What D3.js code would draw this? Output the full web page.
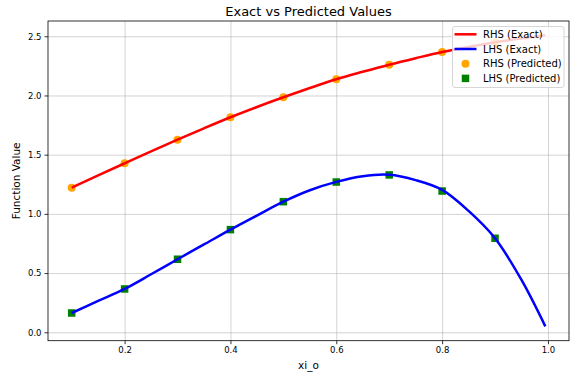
<!DOCTYPE html>
<html>
<head>
<meta charset="utf-8">
<script src="https://cdn.jsdelivr.net/npm/d3@7"></script>
<style>
  body { margin: 0; background: #fff; }
  svg { font-family: "DejaVu Sans", sans-serif; }
</style>
</head>
<body>
<script>
// dense samples of the exact curves
var xsExact = [0.1, 0.15, 0.2, 0.25, 0.3, 0.35, 0.4, 0.45, 0.5, 0.55, 0.6, 0.65, 0.7, 0.75, 0.8, 0.85, 0.9, 0.95, 0.995];
var rhsExact = [1.221, 1.325, 1.427, 1.528, 1.627, 1.723, 1.816, 1.903, 1.985, 2.063, 2.137, 2.200, 2.260, 2.315, 2.367, 2.410, 2.450, 2.482, 2.508];
var lhsExact = [0.163, 0.265, 0.366, 0.490, 0.617, 0.742, 0.867, 0.986, 1.103, 1.200, 1.270, 1.318, 1.330, 1.285, 1.203, 1.025, 0.794, 0.442, 0.050];

// predicted points
var xsPred = [0.1, 0.2, 0.3, 0.4, 0.5, 0.6, 0.7, 0.8, 0.9];
var rhsPred = [1.221, 1.427, 1.627, 1.816, 1.985, 2.137, 2.260, 2.367, 2.450];
var lhsPred = [0.163, 0.366, 0.617, 0.867, 1.103, 1.269, 1.329, 1.193, 0.794];

var xTicks = [0.2, 0.4, 0.6, 0.8, 1.0];
var yTicks = [0.0, 0.5, 1.0, 1.5, 2.0, 2.5];

var W = 584, H = 376;
var m = {left: 48, right: 569, top: 21, bottom: 340.7};

var x = d3.scaleLinear().domain([0.05525, 1.03975]).range([m.left, m.right]);
var y = d3.scaleLinear().domain([-0.071, 2.629]).range([m.bottom, m.top]);

var svg = d3.select("body").append("svg")
  .attr("width", W)
  .attr("height", H);

// grid
svg.append("g")
  .attr("transform", "translate(0," + m.bottom + ")")
  .call(d3.axisBottom(x).tickValues(xTicks).tickSize(-(m.bottom - m.top)).tickFormat(function(){ return null; }))
  .call(function(g){ g.select(".domain").remove(); })
  .selectAll("line").attr("stroke", "#b0b0b0").attr("stroke-opacity", 0.7).attr("stroke-width", 0.8);
svg.append("g")
  .attr("transform", "translate(" + m.left + ",0)")
  .call(d3.axisLeft(y).tickValues(yTicks).tickSize(-(m.right - m.left)).tickFormat(function(){ return null; }))
  .call(function(g){ g.select(".domain").remove(); })
  .selectAll("line").attr("stroke", "#b0b0b0").attr("stroke-opacity", 0.7).attr("stroke-width", 0.8);

// predicted markers (under the lines)
svg.append("g").selectAll("circle")
  .data(xsPred.map(function(d, i){ return [d, rhsPred[i]]; }))
  .join("circle")
  .attr("cx", function(d){ return x(d[0]); })
  .attr("cy", function(d){ return y(d[1]); })
  .attr("r", 4)
  .attr("fill", "orange");

svg.append("g").selectAll("rect")
  .data(xsPred.map(function(d, i){ return [d, lhsPred[i]]; }))
  .join("rect")
  .attr("x", function(d){ return x(d[0]) - 3.75; })
  .attr("y", function(d){ return y(d[1]) - 3.75; })
  .attr("width", 7.5)
  .attr("height", 7.5)
  .attr("fill", "green");

// exact lines
var line = d3.line()
  .x(function(d){ return x(d[0]); })
  .y(function(d){ return y(d[1]); })
  .curve(d3.curveCatmullRom.alpha(0.5));

svg.append("path")
  .datum(xsExact.map(function(d, i){ return [d, rhsExact[i]]; }))
  .attr("d", line)
  .attr("fill", "none")
  .attr("stroke", "red")
  .attr("stroke-width", 2.5);

svg.append("path")
  .datum(xsExact.map(function(d, i){ return [d, lhsExact[i]]; }))
  .attr("d", line)
  .attr("fill", "none")
  .attr("stroke", "blue")
  .attr("stroke-width", 2.5);

// axes
var xAxis = svg.append("g")
  .attr("transform", "translate(0," + m.bottom + ")")
  .call(d3.axisBottom(x).tickValues(xTicks).tickSize(3.5).tickPadding(3).tickFormat(d3.format(".1f")));
var yAxis = svg.append("g")
  .attr("transform", "translate(" + m.left + ",0)")
  .call(d3.axisLeft(y).tickValues(yTicks).tickSize(3.5).tickPadding(3).tickFormat(d3.format(".1f")));
[xAxis, yAxis].forEach(function(g){
  g.select(".domain").remove();
  g.selectAll("line").attr("stroke", "#000").attr("stroke-width", 0.8);
  g.selectAll("text").attr("fill", "#000").style("font-size", "8.5px").style("font-family", "DejaVu Sans");
});

// frame
svg.append("rect")
  .attr("x", m.left).attr("y", m.top)
  .attr("width", m.right - m.left).attr("height", m.bottom - m.top)
  .attr("fill", "none").attr("stroke", "#000").attr("stroke-width", 0.8);

// labels
svg.append("text")
  .attr("x", (m.left + m.right) / 2).attr("y", 16)
  .attr("text-anchor", "middle")
  .style("font-size", "13px")
  .text("Exact vs Predicted Values");
svg.append("text")
  .attr("x", (m.left + m.right) / 2).attr("y", 369)
  .attr("text-anchor", "middle")
  .style("font-size", "10.5px")
  .text("xi_o");
svg.append("text")
  .attr("transform", "translate(20," + ((m.top + m.bottom) / 2) + ") rotate(-90)")
  .attr("text-anchor", "middle")
  .style("font-size", "10.5px")
  .text("Function Value");

// legend
var legendItems = [
  {name: "RHS (Exact)", type: "line", color: "red"},
  {name: "LHS (Exact)", type: "line", color: "blue"},
  {name: "RHS (Predicted)", type: "circle", color: "orange"},
  {name: "LHS (Predicted)", type: "square", color: "green"}
];
var lg = svg.append("g").attr("transform", "translate(452.5,26.5)");
lg.append("rect")
  .attr("width", 111.5).attr("height", 61)
  .attr("rx", 2.5)
  .attr("fill", "#fff").attr("fill-opacity", 0.8)
  .attr("stroke", "#cccccc").attr("stroke-width", 0.8);
var row = lg.selectAll("g.item").data(legendItems).join("g")
  .attr("class", "item")
  .attr("transform", function(d, i){ return "translate(0," + (7.8 + i * 14.7) + ")"; });
row.filter(function(d){ return d.type === "line"; }).append("line")
  .attr("x1", 2).attr("x2", 24).attr("y1", 0).attr("y2", 0)
  .attr("stroke", function(d){ return d.color; }).attr("stroke-width", 2.5);
row.filter(function(d){ return d.type === "circle"; }).append("circle")
  .attr("cx", 13).attr("cy", 0).attr("r", 4).attr("fill", function(d){ return d.color; });
row.filter(function(d){ return d.type === "square"; }).append("rect")
  .attr("x", 9.25).attr("y", -3.75).attr("width", 7.5).attr("height", 7.5).attr("fill", function(d){ return d.color; });
row.append("text")
  .attr("x", 30.5).attr("y", 0).attr("dy", "0.35em")
  .style("font-size", "10px")
  .text(function(d){ return d.name; });
</script>
</body>
</html>
